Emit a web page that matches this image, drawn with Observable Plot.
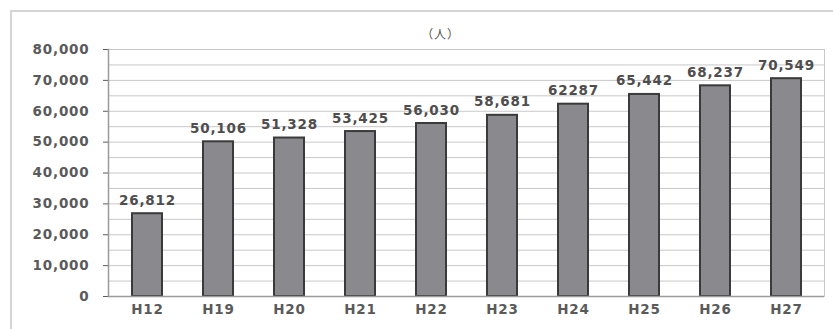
<!DOCTYPE html>
<html>
<head>
<meta charset="utf-8">
<script src="https://cdn.jsdelivr.net/npm/d3@7"></script>
<script src="https://cdn.jsdelivr.net/npm/@observablehq/plot@0.6"></script>
<style>
  html, body { margin: 0; padding: 0; background: #fff; }
  #wrap { position: relative; width: 833px; height: 329px; overflow: hidden; }
  #box { position: absolute; left: 10px; top: 10px; width: 840px; height: 340px;
         border-left: 2px solid #d4d4d4; border-top: 2px solid #d4d4d4; }
  #chart { position: absolute; left: 0; top: 0; }
  svg text { letter-spacing: 0.8px; }
</style>
</head>
<body>
<div id="wrap"><div id="box"></div><div id="chart"></div></div>
<script>
// Number of people by fiscal year (Heisei era)
const years = ["H12", "H19", "H20", "H21", "H22", "H23", "H24", "H25", "H26", "H27"];
const people = [26812, 50106, 51328, 53425, 56030, 58681, 62287, 65442, 68237, 70549];
const valueLabels = ["26,812", "50,106", "51,328", "53,425", "56,030", "58,681", "62287", "65,442", "68,237", "70,549"];
const yTicks = [0, 10000, 20000, 30000, 40000, 50000, 60000, 70000, 80000];
const gridValues = d3.range(5000, 80001, 5000);
const unitLabel = "（人）";

const rows = years.map((y, i) => ({year: y, value: people[i], label: valueLabels[i]}));

const chart = Plot.plot({
  width: 833,
  height: 329,
  marginLeft: 108,
  marginRight: 9,
  marginTop: 49,
  marginBottom: 33,
  style: {fontFamily: "DejaVu Sans, sans-serif", fontSize: "13.5px", fontWeight: "bold", color: "#5a5a5a", background: "transparent"},
  x: {domain: years, paddingInner: 0.58, paddingOuter: 0.29, label: null, tickSize: 0, tickPadding: 8},
  y: {domain: [0, 80000], ticks: yTicks, tickFormat: d3.format(","), label: null, tickSize: 5, tickPadding: 14},
  marks: [
    Plot.ruleY(gridValues, {stroke: "#c8c8c8", strokeWidth: 1}),
    Plot.frame({anchor: "right", stroke: "#c8c8c8"}),
    Plot.barY(rows, {x: "year", y: "value", fill: "#8a8a8e", stroke: "#3a3a3a", strokeWidth: 2}),
    Plot.ruleY([0], {stroke: "#9a9a9a", strokeWidth: 1.5}),
    Plot.frame({anchor: "left", stroke: "#9a9a9a", strokeWidth: 1.5}),
    Plot.text(rows, {x: "year", y: "value", text: "label", lineAnchor: "bottom", dy: -9,
      fill: "#4e4e4e", fontSize: 13.5, fontWeight: "bold"}),
    Plot.text([unitLabel], {frameAnchor: "top", dy: -19, dx: -26, fill: "#555", fontSize: 12,
      fontWeight: "normal", fontFamily: "Noto Sans CJK JP, sans-serif"})
  ]
});
document.getElementById("chart").appendChild(chart);
</script>
</body>
</html>
